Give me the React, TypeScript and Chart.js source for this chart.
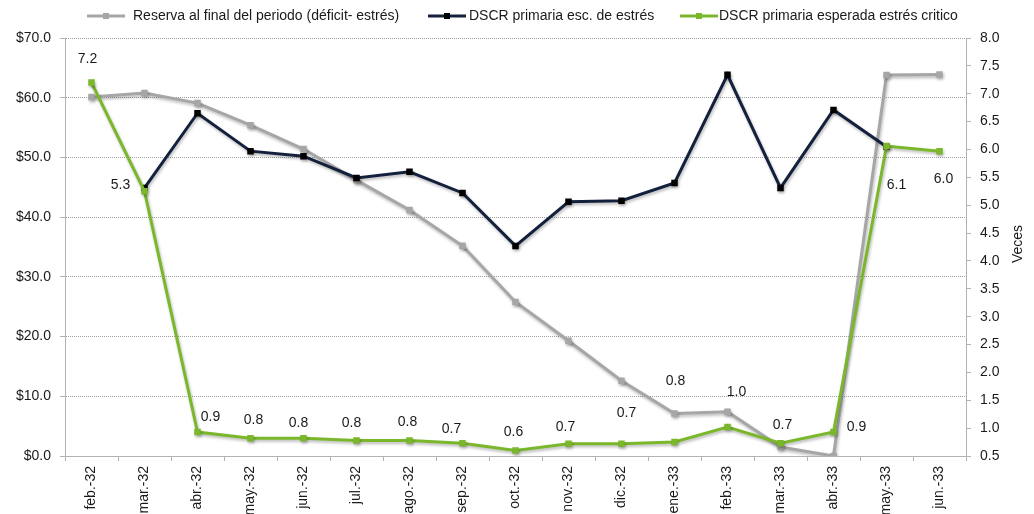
import React, { useEffect, useRef } from 'react';
import { Chart, registerables } from 'chart.js';

Chart.register(...registerables);

const categories = ['feb.-32', 'mar.-32', 'abr.-32', 'may.-32', 'jun.-32', 'jul.-32', 'ago.-32', 'sep.-32', 'oct.-32', 'nov.-32', 'dic.-32', 'ene.-33', 'feb.-33', 'mar.-33', 'abr.-33', 'may.-33', 'jun.-33'];
const reserva = [60.1, 60.8, 59.1, 55.4, 51.4, 46.2, 41.2, 35.2, 25.8, 19.3, 12.6, 7.1, 7.4, 1.5, 0.0, 63.8, 63.9];
const dscrEstres = [null, 5.31, 6.65, 5.97, 5.88, 5.49, 5.6, 5.22, 4.27, 5.06, 5.08, 5.4, 7.34, 5.31, 6.71, 6.05, null];
const dscrCritico = [7.2, 5.25, 0.93, 0.82, 0.82, 0.78, 0.78, 0.73, 0.6, 0.72, 0.72, 0.75, 1.02, 0.73, 0.93, 6.06, 5.97];
const seriesNames = ['Reserva al final del periodo (déficit- estrés)', 'DSCR primaria esc. de estrés', 'DSCR primaria esperada estrés critico'];
const seriesColors = ['#a6a6a6', '#14213d', '#7ab72b'];
const markerColors = ['#a6a6a6', '#000000', '#7ab72b'];
const leftAxis = { min: 0, max: 70, step: 10 };
const rightAxis = { min: 0.5, max: 8, step: 0.5 };
const rightTitle = 'Veces';

// style: data-label offsets (px) relative to each green point
const labelOffsets = [[-4, -23], [-24, -6], [13, -15], [3, -18], [-5, -15], [-5, -17], [-2, -18], [-11, -14], [-2, -18], [-3, -17], [5, -31], [1, -61], [9, -35], [2, -18], [23, -5], [10, 39], [4, 28]];
// style: legend layout
const legendLineX = [87, 428, 680];
const legendTextX = [133, 469, 719];
const legendY = 16;

const FONT = "'Liberation Sans', Arial, sans-serif";

const shadowPlugin = {
  id: 'shadow',
  beforeDatasetDraw(chart: any) {
    const ctx = chart.ctx;
    ctx.save();
    ctx.shadowColor = 'rgba(0,0,0,0.28)';
    ctx.shadowBlur = 3;
    ctx.shadowOffsetX = 1;
    ctx.shadowOffsetY = 2;
  },
  afterDatasetDraw(chart: any) {
    chart.ctx.restore();
  },
};

const extrasPlugin = {
  id: 'extras',
  afterDraw(chart: any) {
    const ctx = chart.ctx;
    ctx.save();
    ctx.font = `14px ${FONT}`;
    ctx.fillStyle = '#1a1a1a';
    ctx.textAlign = 'center';
    ctx.textBaseline = 'middle';
    // data labels for green series
    const meta = chart.getDatasetMeta(2);
    meta.data.forEach((pt: any, i: number) => {
      const v = dscrCritico[i];
      if (v == null) return;
      const [dx, dy] = labelOffsets[i];
      ctx.fillText(v.toFixed(1), pt.x + dx, pt.y + dy);
    });
    // legend
    ctx.textAlign = 'left';
    for (let i = 0; i < seriesNames.length; i++) {
      const x0 = legendLineX[i];
      ctx.strokeStyle = seriesColors[i];
      ctx.lineWidth = 3;
      ctx.beginPath();
      ctx.moveTo(x0, legendY);
      ctx.lineTo(x0 + 38, legendY);
      ctx.stroke();
      ctx.fillStyle = markerColors[i];
      ctx.fillRect(x0 + 19 - 3, legendY - 3, 6, 6);
      ctx.fillStyle = '#1a1a1a';
      ctx.fillText(seriesNames[i], legendTextX[i], legendY);
    }
    // right axis title
    ctx.translate(1018, 244);
    ctx.rotate(-Math.PI / 2);
    ctx.textAlign = 'center';
    ctx.fillText(rightTitle, 0, 0);
    ctx.restore();
  },
};

export default function App() {
  const ref = useRef<HTMLCanvasElement | null>(null);
  useEffect(() => {
    document.body.style.margin = '0';
    if (!ref.current) return;
    Chart.defaults.font.family = FONT;
    Chart.defaults.font.size = 14;
    Chart.defaults.color = '#1a1a1a';
    const mk = (i: number, data: any[], axis: string, order: number) => ({
      label: seriesNames[i],
      data,
      yAxisID: axis,
      borderColor: seriesColors[i],
      backgroundColor: markerColors[i],
      borderWidth: 3,
      pointStyle: 'rect',
      pointRadius: 4.6,
      pointBorderWidth: 0,
      pointBackgroundColor: markerColors[i],
      tension: 0,
      spanGaps: false,
      order,
    });
    const chart = new Chart(ref.current, {
      type: 'line',
      data: {
        labels: categories,
        datasets: [
          mk(0, reserva, 'y', 3),
          mk(1, dscrEstres, 'y1', 2),
          mk(2, dscrCritico, 'y1', 1),
        ],
      },
      options: {
        animation: false,
        responsive: false,
        devicePixelRatio: 1,
        layout: { padding: { top: 38, left: 0, right: 0, bottom: 0 } },
        plugins: {
          legend: { display: false },
          tooltip: { enabled: false },
        },
        scales: {
          x: {
            offset: true,
            afterFit: (s: any) => { s.height = 58; },
            grid: {
              display: true,
              offset: true,
              drawOnChartArea: false,
              drawTicks: true,
              tickLength: 5,
              color: '#b3b3b3',
            },
            border: { display: true, color: '#b3b3b3', width: 1 },
            ticks: {
              autoSkip: false,
              maxRotation: 90,
              minRotation: 90,
              padding: 5,
              font: { size: 14, family: FONT },
              color: '#1a1a1a',
            },
          },
          y: {
            position: 'left',
            min: leftAxis.min,
            max: leftAxis.max,
            afterFit: (s: any) => { s.width = 65; },
            grid: {
              display: true,
              drawOnChartArea: true,
              drawTicks: true,
              tickLength: 5,
              color: '#a0a0a0',
              tickColor: '#b3b3b3',
            },
            border: { display: true, color: '#b3b3b3', width: 1, dash: [1, 1] },
            ticks: {
              stepSize: leftAxis.step,
              padding: 9,
              font: { size: 14, family: FONT },
              color: '#1a1a1a',
              callback: (v: any) => '$' + Number(v).toFixed(1),
            },
          },
          y1: {
            position: 'right',
            min: rightAxis.min,
            max: rightAxis.max,
            afterFit: (s: any) => { s.width = 68; },
            grid: {
              display: true,
              drawOnChartArea: false,
              drawTicks: true,
              tickLength: 5,
              color: '#b3b3b3',
            },
            border: { display: true, color: '#b3b3b3', width: 1 },
            ticks: {
              stepSize: rightAxis.step,
              padding: 9,
              font: { size: 14, family: FONT },
              color: '#1a1a1a',
              callback: (v: any) => Number(v).toFixed(1),
            },
          },
        },
      } as any,
      plugins: [shadowPlugin, extrasPlugin],
    });
    return () => chart.destroy();
  }, []);
  return (
    <div style={{ width: 1034, height: 514 }}>
      <canvas ref={ref} width={1034} height={514} style={{ display: 'block' }} />
    </div>
  );
}
